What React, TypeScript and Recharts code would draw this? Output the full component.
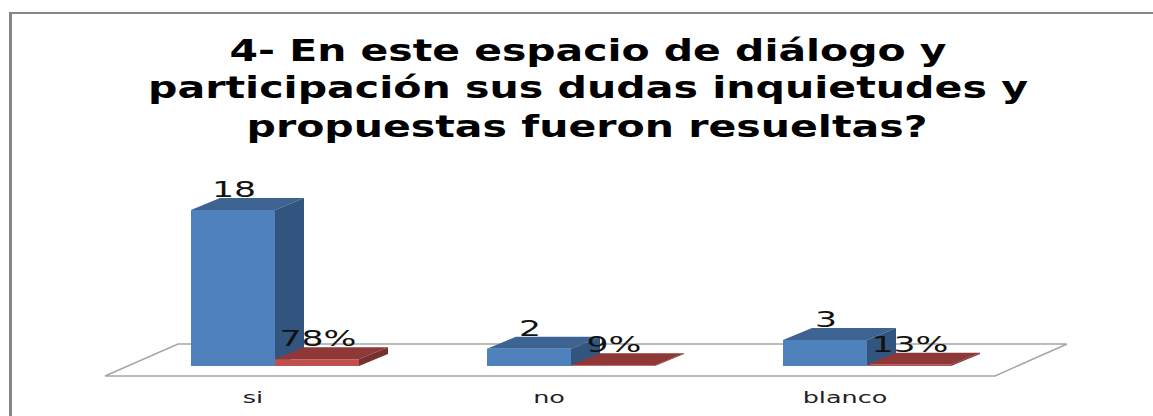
import React from 'react';
import { BarChart, Bar, XAxis, YAxis, LabelList } from 'recharts';

const categories = ['si', 'no', 'blanco'];
const counts = [18, 2, 3];
const shares = [0.78, 0.09, 0.13];
const titleLines = [
  '4- En este espacio de diálogo y',
  'participación sus dudas inquietudes y',
  'propuestas fueron resueltas?',
];

const data = categories.map((name, i) => ({ name, count: counts[i], share: shares[i] }));

const FONT = '"DejaVu Sans", Verdana, sans-serif';
const DEPTH_X = 29;
const DEPTH_Y = 12;

const Box3D = ({ x, y, width, height, front, top, side }: any) => (
  <g>
    <polygon
      points={`${x},${y} ${x + DEPTH_X},${y - DEPTH_Y} ${x + width + DEPTH_X},${y - DEPTH_Y} ${x + width},${y}`}
      fill={top}
    />
    <polygon
      points={`${x + width},${y} ${x + width + DEPTH_X},${y - DEPTH_Y} ${x + width + DEPTH_X},${y + height - DEPTH_Y} ${x + width},${y + height}`}
      fill={side}
    />
    <rect x={x} y={y} width={width} height={height} fill={front} />
  </g>
);

const ValueLabel = ({ x, y, width, value, format }: any) => (
  <text
    transform={`translate(${x + width / 2 + 1},${y - 13}) scale(1.65,1)`}
    textAnchor="middle"
    fontFamily={FONT}
    fontSize={21}
    fill="#111"
  >
    {format(value)}
  </text>
);

const CategoryTick = ({ x, y, payload }: any) => (
  <text
    transform={`translate(${x - 22},${y + 13}) scale(1.7,1)`}
    textAnchor="middle"
    fontFamily={FONT}
    fontSize={15}
    fill="#222"
  >
    {payload.value}
  </text>
);

const App = () => (
  <div style={{ position: 'absolute', left: 0, top: 0, width: 1153, height: 416, background: '#fff', overflow: 'hidden' }}>
    {/* only the top and left edges of the frame are inside the picture */}
    <div
      style={{
        position: 'absolute',
        left: 9,
        top: 12,
        width: 1200,
        height: 420,
        borderTop: '2px solid #868686',
        borderLeft: '3px solid #868686',
        boxSizing: 'border-box',
      }}
    />
    <BarChart
      width={1153}
      height={416}
      data={data}
      barSize={84}
      barGap={0}
      margin={{ top: 210, right: 138, bottom: 0, left: 127 }}
      style={{ position: 'absolute', left: 0, top: 0 }}
    >
      <polygon points="105,376 178,344 1067,344 995,376" fill="#fff" stroke="#a6a6a6" strokeWidth={1.5} />
      <XAxis dataKey="name" axisLine={false} tickLine={false} height={50} tick={<CategoryTick />} tickMargin={18} />
      <YAxis hide domain={[0, 18]} />
      <Bar
        dataKey="count"
        isAnimationActive={false}
        shape={(p: any) => <Box3D {...p} front="#4F81BD" top="#3D6392" side="#32557F" />}
      >
        <LabelList dataKey="count" content={<ValueLabel format={(v: number) => String(v)} />} />
      </Bar>
      <Bar
        dataKey="share"
        isAnimationActive={false}
        shape={(p: any) => <Box3D {...p} front="#C0504D" top="#8E3937" side="#76302E" />}
      >
        <LabelList dataKey="share" content={<ValueLabel format={(v: number) => `${Math.round(v * 100)}%`} />} />
      </Bar>
      <g fontFamily={FONT} fontWeight="bold" fontSize={31} fill="#000" textAnchor="middle">
        <text x={588} y={61} textLength={717} lengthAdjust="spacingAndGlyphs">{titleLines[0]}</text>
        <text x={588} y={98} textLength={880} lengthAdjust="spacingAndGlyphs">{titleLines[1]}</text>
        <text x={587} y={137} textLength={681} lengthAdjust="spacingAndGlyphs">{titleLines[2]}</text>
      </g>
    </BarChart>
  </div>
);

export default App;
